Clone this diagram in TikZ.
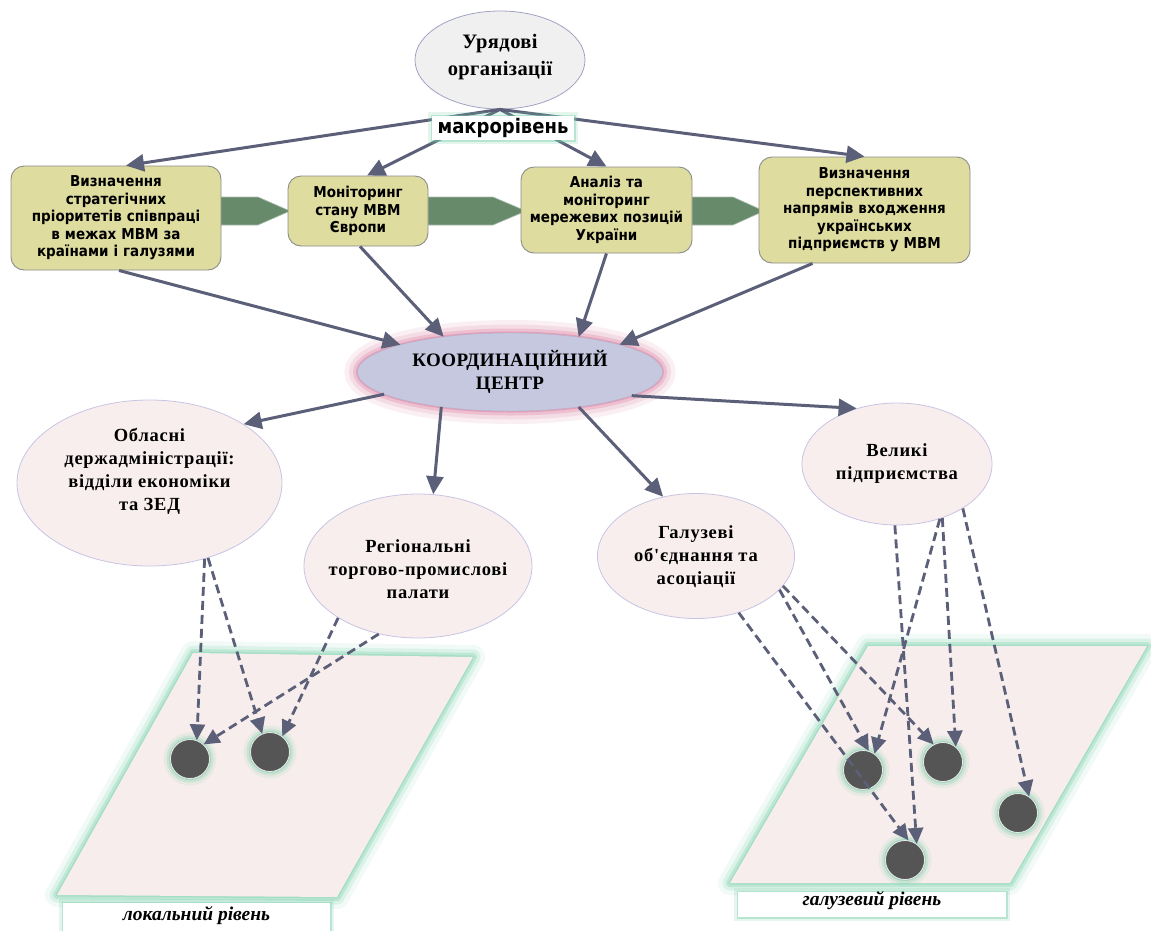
\documentclass[tikz,border=0pt]{standalone}
\usepackage{fontspec}
\setmainfont{Liberation Serif}
\newfontfamily\boxfont[FakeStretch=0.9]{DejaVu Sans}
\newfontfamily\ellfont[LetterSpace=4]{Liberation Serif}
\newfontfamily\kcfont[LetterSpace=2]{Liberation Serif}
\usetikzlibrary{arrows.meta,shapes.geometric}
\definecolor{arrowc}{RGB}{91,95,120}
\definecolor{boxfill}{RGB}{222,220,159}
\definecolor{boxline}{RGB}{140,140,140}
\definecolor{garrow}{RGB}{103,138,107}
\definecolor{pinkfill}{RGB}{248,238,237}
\definecolor{ellline}{RGB}{200,196,228}
\definecolor{grayfill}{RGB}{240,240,240}
\definecolor{grayline}{RGB}{160,163,195}
\definecolor{kcfill}{RGB}{198,200,224}
\definecolor{kcglow}{RGB}{214,110,150}
\definecolor{gglow}{RGB}{120,206,170}
\definecolor{dotfill}{RGB}{85,85,85}
\definecolor{planefill}{RGB}{247,237,236}
\tikzset{
 ell/.style={ellipse, draw=ellline, line width=0.8pt, fill=pinkfill, inner sep=0pt},
 etxt/.style={align=center, inner sep=0pt, font=\ellfont\bfseries\fontsize{18.5}{23}\selectfont},
 bx/.style={rectangle, rounded corners=13pt, draw=boxline, line width=0.9pt, fill=boxfill,
   inner sep=0pt, align=center, font=\boxfont\bfseries\fontsize{15}{17.5}\selectfont},
 arr/.style={draw=arrowc, line width=3pt, -{Triangle[length=18pt,width=17pt]}},
 darr/.style={draw=arrowc, line width=2.8pt, dash pattern=on 9pt off 5pt, -{Triangle[length=16pt,width=15pt]}},
 ggl/.style={preaction={draw=gglow, draw opacity=0.10, line width=24pt, line join=round},
             preaction={draw=gglow, draw opacity=0.18, line width=15pt, line join=round},
             preaction={draw=gglow, draw opacity=0.30, line width=8pt, line join=round},
             preaction={draw=gglow, draw opacity=0.35, line width=3pt, line join=round}},
 dgl/.style={preaction={draw=gglow, draw opacity=0.12, line width=14pt},
             preaction={draw=gglow, draw opacity=0.25, line width=8pt},
             preaction={draw=gglow, draw opacity=0.45, line width=3pt}},
 gglite/.style={preaction={draw=gglow, draw opacity=0.2, line width=8pt},
                preaction={draw=gglow, draw opacity=0.4, line width=3pt}},
 pgl/.style={preaction={draw=kcglow, draw opacity=0.10, line width=26pt},
             preaction={draw=kcglow, draw opacity=0.15, line width=17pt},
             preaction={draw=kcglow, draw opacity=0.25, line width=9pt},
             preaction={draw=kcglow, draw opacity=0.4, line width=3pt}},
 dotn/.style={circle, fill=dotfill, draw=white!85!gray, line width=0.8pt, minimum size=39pt, inner sep=0pt, dgl},
 lvlbox/.style={rectangle, fill=white, inner sep=0pt, gglite},
 lvltxt/.style={inner sep=0pt, font=\bfseries\itshape\fontsize{19.5}{22}\selectfont},
 gblock/.style={fill=garrow, draw=garrow!55!white, line width=0.6pt}
}
\begin{document}
\begin{tikzpicture}[x=1pt,y=-1pt]
\useasboundingbox (0,0) rectangle (1151,930);
\fill[white] (0,0) rectangle (1151,930);

% planes
\path[ggl, fill=planefill] (193,653) -- (473,657) -- (337,897) -- (57,895) -- cycle;
\path[ggl, fill=planefill] (868,646) -- (1147,646) -- (1010,883) -- (730,883) -- cycle;

% level labels
\node[lvlbox, minimum width=267pt, minimum height=34pt] (lb) at (196.5,920) {};
\node[lvltxt] (lt) at (196.5,916) {локальний рівень};
\node[lvlbox, minimum width=268pt, minimum height=25pt] (gb) at (872,904.5) {};
\node[lvltxt] (gt) at (872,901) {галузевий рівень};

% green block arrows
\path[gblock] (220,197) -- (258,197) -- (290,211) -- (258,225) -- (220,225) -- cycle;
\path[gblock] (428,197) -- (493,197) -- (526,211) -- (493,225) -- (428,225) -- cycle;
\path[gblock] (692,197) -- (733,197) -- (764,211) -- (733,225) -- (692,225) -- cycle;

% top ellipse
\node[ellipse, draw=grayline, line width=0.8pt, fill=grayfill, minimum width=170pt, minimum height=98pt,
  inner sep=0pt, label={[etxt, font=\kcfont\bfseries\fontsize{20.5}{27}\selectfont, yshift=3pt]center:Урядові\\організації}] (uo) at (500,60) {};

% boxes
\node[bx, minimum width=210pt, minimum height=104pt, text width=204pt] (b1) at (116,218)
  {Визначення\\стратегічних\\пріоритетів співпраці\\в межах МВМ за\\країнами і галузями};
\node[bx, minimum width=140pt, minimum height=70pt, text width=134pt] (b2) at (358,211)
  {Моніторинг\\стану МВМ\\Європи};
\node[bx, minimum width=171pt, minimum height=86pt, text width=167pt] (b3) at (606.5,210)
  {Аналіз та\\моніторинг\\мережевих позицій\\України};
\node[bx, minimum width=211pt, minimum height=106pt, text width=207pt] (b4) at (864.5,210)
  {Визначення\\перспективних\\напрямів входження\\українських\\підприємств у МВМ};

% coordination centre
\node[ellipse, pgl, fill=kcfill, draw=kcfill!90!black, line width=0.4pt, minimum width=305pt, minimum height=78pt,
  inner sep=0pt, label={[etxt, font=\kcfont\bfseries\fontsize{19}{23}\selectfont]center:КООРДИНАЦІЙНИЙ\\ЦЕНТР}] (kc) at (510,372) {};

% lower ellipses
\node[ell, minimum width=265pt, minimum height=166pt, label={[etxt, yshift=12pt]center:Обласні\\держадміністрації:\\відділи економіки\\та ЗЕД}] (ob) at (149.5,483) {};
\node[ell, minimum width=228pt, minimum height=144pt, label={[etxt, yshift=-3pt]center:Регіональні\\торгово-промислові\\палати}] (rg) at (418,566) {};
\node[ell, minimum width=197pt, minimum height=125pt, label={[etxt, yshift=-1pt]center:Галузеві\\об'єднання та\\асоціації}] (gl) at (696,556) {};
\node[ell, minimum width=190pt, minimum height=122pt, label={[etxt]center:Великі\\підприємства}] (vl) at (897,464) {};

% dots
\node[dotn] (l1) at (190,759) {};
\node[dotn] (l2) at (270,752) {};
\node[dotn] (r1) at (863,770) {};
\node[dotn] (r2) at (943,762) {};
\node[dotn] (r3) at (1018,813) {};
\node[dotn] (r4) at (905,860) {};

% solid arrows
\draw[arr] (uo.south) -- ([xshift=10pt]b1.north);
\draw[arr] (uo.south) -- ([xshift=9pt]b2.north);
\draw[arr] (uo.south) -- (b3.north);
\draw[arr] (uo.south) -- (b4.north);
\draw[arr] ([xshift=3pt]b1.south) -- (kc.166);
\draw[arr] ([xshift=2pt]b2.south) -- (kc.152);
\draw[arr] (b3.south) -- (kc.27);
\draw[arr] ([xshift=-52pt]b4.south) -- (kc.14);
\draw[arr] (kc.190) -- (ob.32);
\draw[arr] (kc.207) -- (rg.78);
\draw[arr] (kc.333) -- (gl.119);
\draw[arr] (kc.349) -- (vl.126);

% dashed arrows
\draw[darr] (ob.306) -- (l1.70);
\draw[darr] (ob.308) -- (l2.113);
\draw[darr] (rg.213) -- (l2.52);
\draw[darr] (rg.240) -- (l1.47);
\draw[darr] (gl.307) -- (r4.80);
\draw[darr] (gl.338) -- (r1.73);
\draw[darr] (gl.341) -- (r2.118);
\draw[darr] (vl.268) -- (r4.54);
\draw[darr] (vl.308) -- (r1.55);
\draw[darr] (vl.310) -- (r2.50);
\draw[darr] (vl.326) -- (r3.56);

% macro level label
\node[rectangle, fill=white, inner sep=0pt, minimum width=142pt, minimum height=24pt, gglite,
  font=\boxfont\bfseries\fontsize{20}{22}\selectfont] (mk) at (503,128) {макрорівень};
\end{tikzpicture}
\end{document}
